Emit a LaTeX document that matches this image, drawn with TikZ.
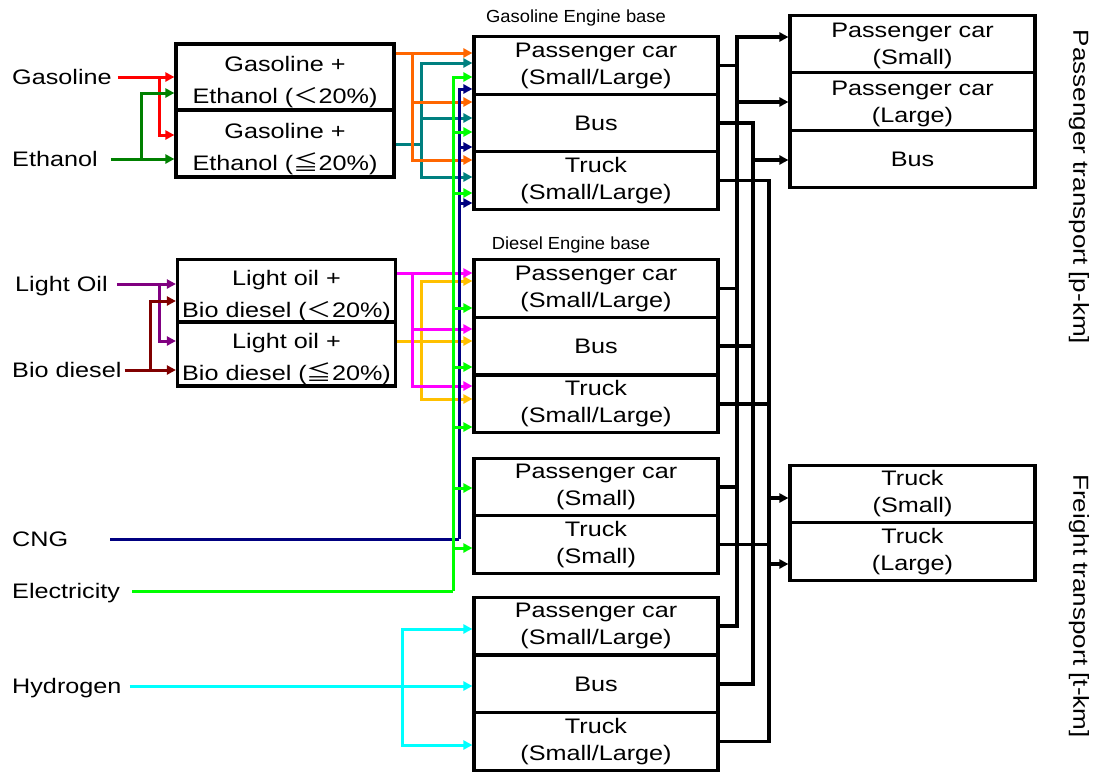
\documentclass[tikz,border=0pt]{standalone}
\usepackage{fontspec}
\setmainfont{Liberation Sans}[FakeStretch=1.2]
\newfontfamily\jpfont{Noto Sans CJK JP}[FakeStretch=1.2]
\newfontfamily\basefont{Liberation Sans}[FakeStretch=1.05]
\usepackage{tikz}
\usetikzlibrary{arrows.meta}
\usepackage{color}

\definecolor{fuelred}{RGB}{255,0,0}
\definecolor{fuelgreen}{RGB}{0,128,0}
\definecolor{fuelpurple}{RGB}{128,0,128}
\definecolor{fuelbrown}{RGB}{128,0,0}
\definecolor{mixorange}{RGB}{255,102,0}
\definecolor{mixteal}{RGB}{0,128,128}
\definecolor{mixmagenta}{RGB}{255,0,255}
\definecolor{mixgold}{RGB}{255,192,0}
\definecolor{cngnavy}{RGB}{0,0,128}
\definecolor{elecgreen}{RGB}{0,255,0}
\definecolor{hydcyan}{RGB}{0,255,255}

\begin{document}
\begin{tikzpicture}[x=1pt, y=-1pt, >={Triangle[length=9pt,width=9pt]},
    box/.style={draw, line width=3.2pt, minimum width=244pt, minimum height=57.5pt,
      inner sep=0pt, align=center, font=\fontsize{21}{27}\selectfont},
    mixbox/.style={box, minimum width=218pt, font=\fontsize{21}{32}\selectfont},
    fuel/.style={anchor=west, inner sep=0pt, text height=15pt, text depth=0pt,
      font=\fontsize{21}{25}\selectfont},
    feed/.style={line width=3pt},
    link/.style={line width=3.2pt}]
		  \useasboundingbox (0,0) rectangle (1097,771);

		  % Nodes
		  \node[fuel] (Gasoline) at (12,77) {Gasoline};
		  \node[fuel] (Ethanol) at (12,159) {Ethanol};
		  \node[fuel] (LightOil) at (15,284) {Light Oil};
		  \node[fuel] (BioDiesel) at (12,370) {Bio diesel};
		  \node[fuel] (CNG) at (12,539) {CNG};
		  \node[fuel] (Electricity) at (12,591) {Electricity};
		  \node[fuel] (Hydrogen) at (12,686) {Hydrogen};

		  \node[mixbox, minimum height=66pt] (MixA) at (285,77) {\rule{0pt}{26pt}Gasoline +\\Ethanol ({\jpfont ＜}20\%)};
		  \node[mixbox, minimum height=67pt] (MixB) at (285,143.5) {\rule{0pt}{26pt}Gasoline +\\Ethanol ({\jpfont ≦}20\%)};
		  \node[mixbox, minimum height=62pt] (MixC) at (286.5,291) {\rule{0pt}{26pt}Light oil +\\Bio diesel ({\jpfont ＜}20\%)};
		  \node[mixbox, minimum height=64pt] (MixD) at (286.5,354) {\rule{0pt}{26pt}Light oil +\\Bio diesel ({\jpfont ≦}20\%)};

		  \node[font=\basefont\fontsize{17.5}{20}\selectfont] (GasBase) at (576,18) {Gasoline Engine base};
		  \node[box] (GPC) at (596,65.5) {Passenger car\\(Small/Large)};
		  \node[box] (GBus) at (596,123) {Bus};
		  \node[box] (GTruck) at (596,180.5) {Truck\\(Small/Large)};

		  \node[font=\basefont\fontsize{17.5}{20}\selectfont] (DieBase) at (571,245) {Diesel Engine base};
		  \node[box] (DPC) at (596,288.5) {Passenger car\\(Small/Large)};
		  \node[box] (DBus) at (596,346) {Bus};
		  \node[box] (DTruck) at (596,404) {Truck\\(Small/Large)};

		  \node[box] (EPC) at (596,487) {Passenger car\\(Small)};
		  \node[box] (ETruck) at (596,544.5) {Truck\\(Small)};

		  \node[box] (HPC) at (596,626) {Passenger car\\(Small/Large)};
		  \node[box] (HBus) at (596,684) {Bus};
		  \node[box] (HTruck) at (596,741.5) {Truck\\(Small/Large)};

		  \node[box, minimum width=245pt] (PCS) at (912.5,44) {\rule{0pt}{19pt}Passenger car\\(Small)};
		  \node[box, minimum width=245pt, minimum height=58pt] (PCL) at (912.5,101.5) {\rule{0pt}{19pt}Passenger car\\(Large)};
		  \node[box, minimum width=245pt] (PBus) at (912.5,159) {Bus};
		  \node[box, minimum width=245pt] (TS) at (912.5,494) {Truck\\(Small)};
		  \node[box, minimum width=245pt] (TL) at (912.5,551.5) {Truck\\(Large)};

		  \node[rotate=-90, font=\fontsize{21.7}{25}\selectfont] (PassLabel) at (1079,187) {Passenger transport [p-km]};
		  \node[rotate=-90, font=\fontsize{21.7}{25}\selectfont] (FreightLabel) at (1079,606) {Freight transport [t-km]};

		  % Junctions
		  \coordinate (redJ) at (159,77);
		  \coordinate (grnJ) at (141,159);
		  \coordinate (purJ) at (159,284);
		  \coordinate (brnJ) at (150,370);
		  \coordinate (orJ) at (412,53);
		  \coordinate (tlJ) at (421,144);
		  \coordinate (mgJ) at (412,273);
		  \coordinate (gdJ) at (421,341);
		  \coordinate (cngJ) at (459,539);
		  \coordinate (elJ) at (453,591);
		  \coordinate (hyJ) at (402,686);
		  \coordinate (paxT) at (737,37);
		  \coordinate (busT) at (753,123);
		  \coordinate (trkT) at (769,180.5);

		  % Arrows into the blends
		  \draw[feed, fuelred, ->] ([xshift=6pt]Gasoline.east) -- (MixA.west |- Gasoline.east);
		  \draw[feed, fuelred, ->] (redJ) |- (MixB.west |- 0,135); % gasoline into high blend
		  \draw[feed, fuelgreen, ->] ([xshift=13pt]Ethanol.east) -- (MixB.west |- Ethanol.east);
		  \draw[feed, fuelgreen, ->] (grnJ) |- (MixA.west |- 0,93); % ethanol into low blend
		  \draw[feed, fuelpurple, ->] ([xshift=9pt]LightOil.east) -- (MixC.west |- LightOil.east);
		  \draw[feed, fuelpurple, ->] (purJ) |- (MixD.west |- 0,341);
		  \draw[feed, fuelbrown, ->] ([xshift=3pt]BioDiesel.east) -- (MixD.west |- BioDiesel.east);
		  \draw[feed, fuelbrown, ->] (brnJ) |- (MixC.west |- 0,301);

		  % Arrows from the blends to the vehicles
		  \draw[feed, mixteal] (MixB.east |- tlJ) -- (tlJ);
		  \draw[feed, mixteal, ->] (tlJ) |- (GPC.west |- 0,63);
		  \draw[feed, mixteal, ->] (tlJ) |- (GBus.west |- 0,118);
		  \draw[feed, mixteal, ->] (tlJ) |- (GTruck.west |- 0,177);
		  \draw[feed, mixorange, ->] (MixA.east |- orJ) -- (GPC.west |- orJ);
		  \draw[feed, mixorange, ->] (orJ) |- (GBus.west |- 0,102);
		  \draw[feed, mixorange, ->] (orJ) |- (GTruck.west |- 0,160);

		  \draw[feed, mixgold, ->] (MixD.east |- gdJ) -- (DBus.west |- gdJ);
		  \draw[feed, mixgold, ->] (gdJ) |- (DPC.west |- 0,281);
		  \draw[feed, mixgold, ->] (gdJ) |- (DTruck.west |- 0,399);
		  \draw[feed, mixmagenta, ->] (MixC.east |- mgJ) -- (DPC.west |- mgJ);
		  \draw[feed, mixmagenta, ->] (mgJ) |- (DBus.west |- 0,329);
		  \draw[feed, mixmagenta, ->] (mgJ) |- (DTruck.west |- 0,386);

		  % CNG and electricity
		  \draw[feed, cngnavy] ([xshift=42pt]CNG.east) -- (cngJ);
		  \draw[feed, cngnavy, ->] (cngJ) |- (GPC.west |- 0,89);
		  \draw[feed, cngnavy, ->] (cngJ) |- (GBus.west |- 0,147);
		  \draw[feed, cngnavy, ->] (cngJ) |- (GTruck.west |- 0,203);
		  \draw[feed, elecgreen] ([xshift=12pt]Electricity.east) -- (elJ);
		  \draw[feed, elecgreen, ->] (elJ) |- (GPC.west |- 0,77);
		  \draw[feed, elecgreen, ->] (elJ) |- (GBus.west |- 0,132);
		  \draw[feed, elecgreen, ->] (elJ) |- (GTruck.west |- 0,193);
		  \draw[feed, elecgreen, ->] (elJ) |- (DPC.west |- 0,308);
		  \draw[feed, elecgreen, ->] (elJ) |- (DBus.west |- 0,367);
		  \draw[feed, elecgreen, ->] (elJ) |- (DTruck.west |- 0,427);
		  \draw[feed, elecgreen, ->] (elJ) |- (EPC.west |- 0,488);
		  \draw[feed, elecgreen, ->] (elJ) |- (ETruck.west |- 0,548);

		  % Hydrogen
		  \draw[feed, hydcyan, ->] ([xshift=8pt]Hydrogen.east) -- (HBus.west |- Hydrogen.east);
		  \draw[feed, hydcyan, ->] (hyJ) |- (HPC.west |- 0,629);
		  \draw[feed, hydcyan, ->] (hyJ) |- (HTruck.west |- 0,745);

		  % Arrows to transport demand
		  \draw[link, ->] (HPC.east) -| (paxT) -- (PCS.west |- paxT); % passenger cars
		  \draw[link] (GPC.east) -- (GPC.east -| paxT);
		  \draw[link] (DPC.east) -- (DPC.east -| paxT);
		  \draw[link] (EPC.east) -- (EPC.east -| paxT);
		  \draw[link, ->] (paxT |- 0,102) -- (PCL.west |- 0,102);

		  \draw[link] (GBus.east) -- (busT) |- (HBus.east); % buses
		  \draw[link] (DBus.east) -- (DBus.east -| busT);
		  \draw[link, ->] (busT |- 0,160) -- (PBus.west |- 0,160);

		  \draw[link] (GTruck.east) -- (trkT) |- (HTruck.east); % trucks
		  \draw[link] (DTruck.east) -- (DTruck.east -| trkT);
		  \draw[link] (ETruck.east) -- (ETruck.east -| trkT);
		  \draw[link, ->] (trkT |- 0,498) -- (TS.west |- 0,498);
		  \draw[link, ->] (trkT |- 0,564) -- (TL.west |- 0,564);
		\end{tikzpicture}
\end{document}
